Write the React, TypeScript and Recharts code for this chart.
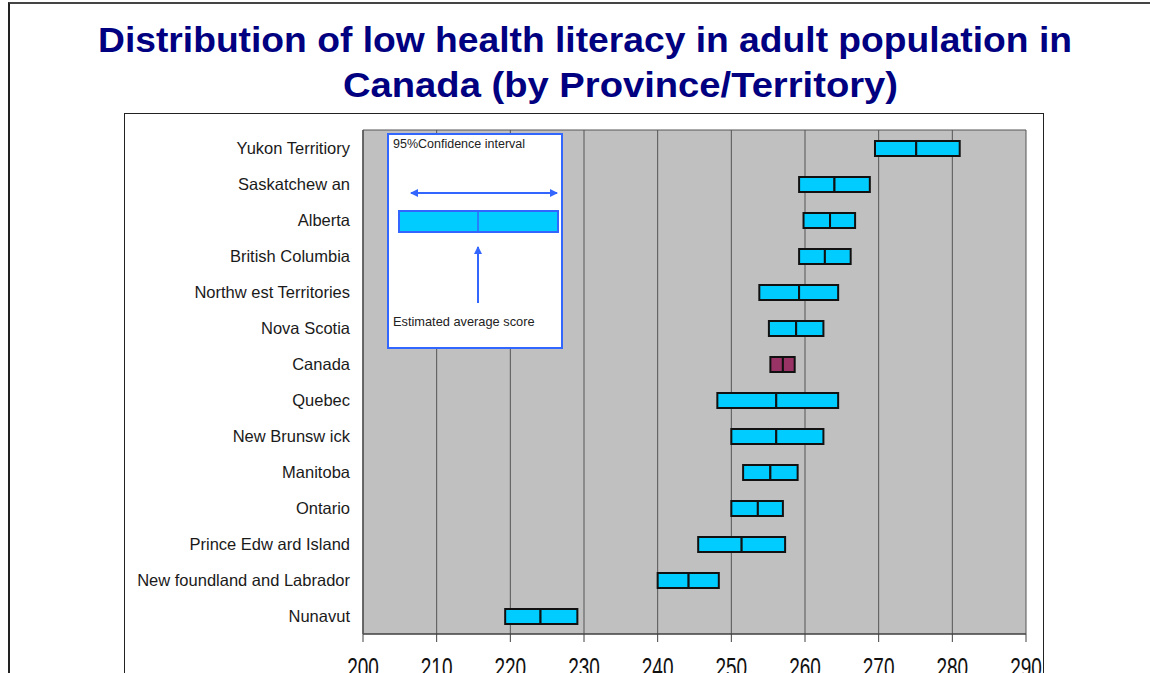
import React from "react";
import {
  BarChart,
  Bar,
  XAxis,
  YAxis,
  CartesianGrid,
  Cell,
} from "recharts";

// provinces, top to bottom as in the picture
const provinces = [
  "Yukon Territiory",
  "Saskatchew an",
  "Alberta",
  "British Columbia",
  "Northw est Territories",
  "Nova Scotia",
  "Canada",
  "Quebec",
  "New  Brunsw ick",
  "Manitoba",
  "Ontario",
  "Prince Edw ard Island",
  "New foundland and Labrador",
  "Nunavut",
];

// 95% confidence interval bounds and estimated average score
const lowerBound = [269.5, 259.2, 259.8, 259.2, 253.8, 255.1, 255.3, 248.1, 250.0, 251.6, 250.0, 245.5, 240.0, 219.3];
const averageScore = [275.1, 264.0, 263.4, 262.7, 259.2, 258.8, 257.0, 256.1, 256.1, 255.3, 253.6, 251.4, 244.2, 224.1];
const upperBound = [281.0, 268.8, 266.8, 266.2, 264.5, 262.5, 258.6, 264.5, 262.5, 259.0, 257.0, 257.3, 248.3, 229.1];

const xTicks = [200, 210, 220, 230, 240, 250, 260, 270, 280, 290];

const chartData = provinces.map((name, i) => ({
  name,
  base: lowerBound[i],
  lowerPart: averageScore[i] - lowerBound[i],
  upperPart: upperBound[i] - averageScore[i],
}));

const barColor = (name: string) => (name === "Canada" ? "#993366" : "#00ccff");

const FONT = "'Liberation Sans', Arial, sans-serif";
const BLUE = "#3366ff";

// x tick labels are drawn a bit taller than wide, like the stretched slide
const XTick = (props: any) => {
  const { x, y, payload } = props;
  return (
    <text
      x={x}
      y={y}
      dy="0.71em"
      textAnchor="middle"
      fill="#111"
      fontSize={19}
      fontFamily={FONT}
      transform={`translate(${x},${y}) scale(1,1.5) translate(${-x},${-y})`}
    >
      {payload.value}
    </text>
  );
};

const Legend = () => (
  <div
    style={{
      position: "absolute",
      left: 387,
      top: 133,
      width: 172,
      height: 212,
      border: `2px solid ${BLUE}`,
      background: "#fff",
    }}
  >
    <svg width={172} height={212} style={{ display: "block" }}>
      <defs>
        <marker id="ah" markerWidth="8" markerHeight="8" refX="7" refY="4" orient="auto-start-reverse" markerUnits="userSpaceOnUse">
          <path d="M0,0 L8,4 L0,8 z" fill={BLUE} />
        </marker>
      </defs>
      <text x={4} y={13} fontFamily={FONT} fontSize={12.5} fill="#222">
        95%Confidence interval
      </text>
      <line x1={22} y1={58} x2={168} y2={58} stroke={BLUE} strokeWidth={2} markerStart="url(#ah)" markerEnd="url(#ah)" />
      <rect x={10} y={76} width={159} height={21} fill="#00ccff" stroke={BLUE} strokeWidth={2} />
      <line x1={89} y1={76} x2={89} y2={97} stroke={BLUE} strokeWidth={1.5} />
      <line x1={89} y1={168} x2={89} y2={112} stroke={BLUE} strokeWidth={2} markerEnd="url(#ah)" />
      <text x={4} y={191} fontFamily={FONT} fontSize={12.8} fill="#222">
        Estimated average score
      </text>
    </svg>
  </div>
);

export default function App() {
  return (
    <div style={{ position: "absolute", left: 0, top: 0, width: 1150, height: 673, overflow: "hidden", background: "#fff" }}>
      {/* slide frame */}
      <div
        style={{
          position: "absolute",
          left: 8,
          top: 2,
          width: 1160,
          height: 700,
          borderTop: "2px solid #444",
          borderLeft: "2px solid #222",
        }}
      />
      {/* title */}
      <svg width={1150} height={110} style={{ position: "absolute", left: 0, top: 0 }}>
        <text x={98} y={52} fontFamily={FONT} fontWeight="bold" fontSize={35} fill="#000080" textLength={974} lengthAdjust="spacingAndGlyphs">
          Distribution of low health literacy in adult population in
        </text>
        <text x={343} y={97} fontFamily={FONT} fontWeight="bold" fontSize={35} fill="#000080" textLength={555} lengthAdjust="spacingAndGlyphs">
          Canada (by Province/Territory)
        </text>
      </svg>
      {/* chart frame */}
      <div
        style={{
          position: "absolute",
          left: 124,
          top: 113,
          width: 918,
          height: 600,
          border: "1.5px solid #222",
          background: "#fff",
        }}
      />
      <div style={{ position: "absolute", left: 0, top: 0 }}>
        <BarChart
          width={1150}
          height={673}
          data={chartData}
          layout="vertical"
          margin={{ top: 130, right: 124, left: 123, bottom: 0 }}
          barSize={15}
        >
          <CartesianGrid
            horizontal={true}
            horizontalPoints={[130]}
            vertical={true}
            stroke="#555"
            fill="#c0c0c0"
            fillOpacity={1}
          />
          <XAxis
            type="number"
            domain={[200, 290]}
            ticks={xTicks}
            allowDataOverflow
            height={39}
            tickSize={8}
            tickMargin={15}
            axisLine={{ stroke: "#404040", strokeWidth: 1.5 }}
            tickLine={{ stroke: "#404040" }}
            tick={<XTick />}
            interval={0}
          />
          <YAxis
            type="category"
            dataKey="name"
            width={240}
            tickSize={0}
            tickMargin={13}
            axisLine={{ stroke: "#555", strokeWidth: 1.5 }}
            tickLine={false}
            tick={{ fill: "#1a1a1a", fontSize: 16.5, fontFamily: FONT }}
            interval={0}
          />
          <Bar dataKey="base" stackId="ci" fill="transparent" isAnimationActive={false} />
          <Bar dataKey="lowerPart" stackId="ci" stroke="#111" strokeWidth={2} isAnimationActive={false}>
            {chartData.map((d) => (
              <Cell key={d.name} fill={barColor(d.name)} />
            ))}
          </Bar>
          <Bar dataKey="upperPart" stackId="ci" stroke="#111" strokeWidth={2} isAnimationActive={false}>
            {chartData.map((d) => (
              <Cell key={d.name} fill={barColor(d.name)} />
            ))}
          </Bar>
        </BarChart>
      </div>
      <Legend />
    </div>
  );
}
